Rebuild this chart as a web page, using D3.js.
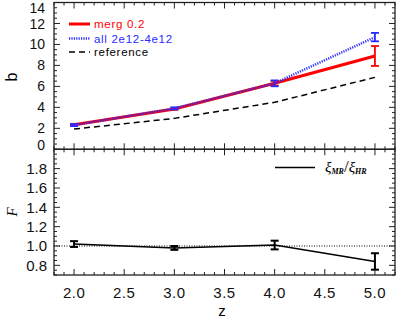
<!DOCTYPE html>
<html><head><meta charset="utf-8">
<script src="https://cdn.jsdelivr.net/npm/d3@7"></script>
<style>body{margin:0;background:#fff}svg{display:block}text{font-family:"Liberation Sans",Arial,sans-serif}</style>
</head><body><svg id="c" width="399" height="319"></svg>
<script>
const zVals = [2.0, 3.0, 4.0, 5.0];
const mergB = [2.35, 3.85, 6.3, 8.9];
const mergErr = [0.08, 0.08, 0.22, 0.95];
const allB = [2.31, 3.9, 6.29, 10.7];
const allErr = [0.1, 0.1, 0.28, 0.4];
const refB = [1.93, 2.95, 4.48, 6.86];
const ratioF = [1.02, 0.98, 1.01, 0.84];
const ratioErr = [0.03, 0.02, 0.045, 0.085];
const xTicks = [2.0, 2.5, 3.0, 3.5, 4.0, 4.5, 5.0];
const topTicks = [0, 2, 4, 6, 8, 10, 12, 14];
const botTicks = [0.8, 1.0, 1.2, 1.4, 1.6, 1.8];
const legendTop = ["merg 0.2", "all 2e12-4e12", "reference"];

const svg = d3.select("#c");
const L = 54, R = 395, T = 2.5, M = 149.3, B = 275;
const x = d3.scaleLinear().domain([1.8, 5.2]).range([L, R]);
const yT = d3.scaleLinear().domain([0, 14]).range([M, T]);
const yB = d3.scaleLinear().domain([0.7, 2.0]).range([B, M]);
const ax = "#222";

function ticksFor(y, majors, minorStep, fmt, labelX, clampTop, clampBot, fs) {
  const g = svg.append("g");
  const dom = y.domain();
  const minors = d3.range(Math.ceil(dom[0]/minorStep - 1e-6), Math.floor(dom[1]/minorStep + 1e-6)+1).map(i => +(i*minorStep).toFixed(4));
  minors.forEach(v => {
    const isMaj = majors.some(m => Math.abs(m - v) < 1e-6);
    const len = isMaj ? 6 : 3;
    const yy = y(v);
    g.append("line").attr("x1", L).attr("x2", L + len).attr("y1", yy).attr("y2", yy).attr("stroke", ax).attr("stroke-width", 1);
    g.append("line").attr("x1", R).attr("x2", R - len).attr("y1", yy).attr("y2", yy).attr("stroke", ax).attr("stroke-width", 1);
  });
  majors.forEach(v => {
    let yy = y(v);
    yy = Math.max(clampTop, Math.min(clampBot, yy));
    g.append("text").attr("x", labelX).attr("y", yy).attr("dy", "0.36em").attr("text-anchor", "end")
      .attr("font-size", fs).attr("fill", "#111").text(fmt(v));
  });
}
function xTicksFor(yTop, yBot) {
  const g = svg.append("g");
  const minors = d3.range(18, 53).map(i => i/10);
  minors.forEach(v => {
    const isMaj = xTicks.some(m => Math.abs(m - v) < 1e-6);
    const len = isMaj ? 6 : 3;
    const xx = x(v);
    [[yTop, 1], [yBot, -1]].forEach(([yy, d]) => {
      g.append("line").attr("x1", xx).attr("x2", xx).attr("y1", yy).attr("y2", yy + d*len).attr("stroke", ax).attr("stroke-width", 1);
    });
  });
}
ticksFor(yT, topTicks, 0.5, d => d3.format("d")(d), 45, 8, 145, 14);
ticksFor(yB, botTicks, 0.05, d => d3.format(".1f")(d), 47, 0, 400, 15);
xTicksFor(T, M);
xTicksFor(M, B);
svg.append("rect").attr("x", L).attr("y", T).attr("width", R-L).attr("height", M-T).attr("fill", "none").attr("stroke", ax).attr("stroke-width", 1.3);
svg.append("rect").attr("x", L).attr("y", M).attr("width", R-L).attr("height", B-M).attr("fill", "none").attr("stroke", ax).attr("stroke-width", 1.3);

xTicks.forEach(v => svg.append("text").attr("x", x(v)).attr("y", 298).attr("text-anchor", "middle")
  .attr("font-size", 15).attr("letter-spacing", 0.5).attr("fill", "#111").text(d3.format(".1f")(v)));
svg.append("text").attr("x", 222).attr("y", 316).attr("text-anchor", "middle").attr("font-size", 15).text("z");
svg.append("text").attr("transform", "translate(17,77) rotate(-90)").attr("text-anchor", "middle").attr("font-size", 16).text("b");
svg.append("text").attr("transform", "translate(17,212) rotate(-90)").attr("text-anchor", "middle").attr("font-size", 15)
  .attr("font-style", "italic").style("font-family", "'Liberation Serif',serif").text("F");

const idx = d3.range(zVals.length);
const lineT = arr => d3.line().x(i => x(zVals[i])).y(i => yT(arr[i]))(idx);
svg.append("path").attr("d", lineT(refB)).attr("fill", "none").attr("stroke", "#000").attr("stroke-width", 1.5).attr("stroke-dasharray", "6,4");
svg.append("path").attr("d", lineT(mergB)).attr("fill", "none").attr("stroke", "#ff0000").attr("stroke-width", 3);
svg.append("path").attr("d", lineT(allB)).attr("fill", "none").attr("stroke", "#2a2aff").attr("stroke-width", 2.5).attr("stroke-dasharray", "1.2,1.2");

function errBars(y, vals, errs, color, w) {
  idx.forEach(i => {
    const xx = x(zVals[i]), y1 = y(vals[i] + errs[i]), y2 = y(vals[i] - errs[i]);
    svg.append("line").attr("x1", xx).attr("x2", xx).attr("y1", y1).attr("y2", y2).attr("stroke", color).attr("stroke-width", w);
    [y1, y2].forEach(yy => svg.append("line").attr("x1", xx-4).attr("x2", xx+4).attr("y1", yy).attr("y2", yy).attr("stroke", color).attr("stroke-width", w));
  });
}
errBars(yT, mergB, mergErr, "#ff0000", 1.8);
errBars(yT, allB, allErr, "#2a2aff", 1.8);

const legY = [24, 38.5, 52];
const legC = ["#ff0000", "#2a2aff", "#000"];
const legW = [3, 2.5, 1.5];
const legD = [null, "1.2,1.2", "6,4"];
legendTop.forEach((t, i) => {
  svg.append("line").attr("x1", 69).attr("x2", 90).attr("y1", legY[i]).attr("y2", legY[i]).attr("stroke", legC[i])
    .attr("stroke-width", legW[i]).attr("stroke-dasharray", legD[i]);
  svg.append("text").attr("x", 94).attr("y", legY[i]).attr("dy", "0.35em").attr("font-size", 11.5).attr("letter-spacing", 0.7)
    .attr("fill", legC[i]).text(t);
});

svg.append("line").attr("x1", L).attr("x2", R).attr("y1", yB(1)).attr("y2", yB(1)).attr("stroke", "#000").attr("stroke-width", 1).attr("stroke-dasharray", "1,1.5");
svg.append("path").attr("d", d3.line().x(i => x(zVals[i])).y(i => yB(ratioF[i]))(idx)).attr("fill", "none").attr("stroke", "#000").attr("stroke-width", 1.6);
errBars(yB, ratioF, ratioErr, "#000", 2);
svg.append("line").attr("x1", 275).attr("x2", 315).attr("y1", 167.5).attr("y2", 167.5).attr("stroke", "#000").attr("stroke-width", 1.6);
const lt = svg.append("text").attr("x", 325).attr("y", 172).attr("font-size", 15).attr("font-style", "italic").style("font-family", "'Liberation Serif',serif");
lt.append("tspan").text("ξ");
lt.append("tspan").attr("font-size", 8).attr("dy", 2).attr("font-weight", "bold").text("MR");
lt.append("tspan").attr("dy", -2).attr("font-size", 17).attr("font-style", "normal").text("/");
lt.append("tspan").text("ξ");
lt.append("tspan").attr("font-size", 8).attr("dy", 2).attr("font-weight", "bold").text("HR");
</script></body></html>
